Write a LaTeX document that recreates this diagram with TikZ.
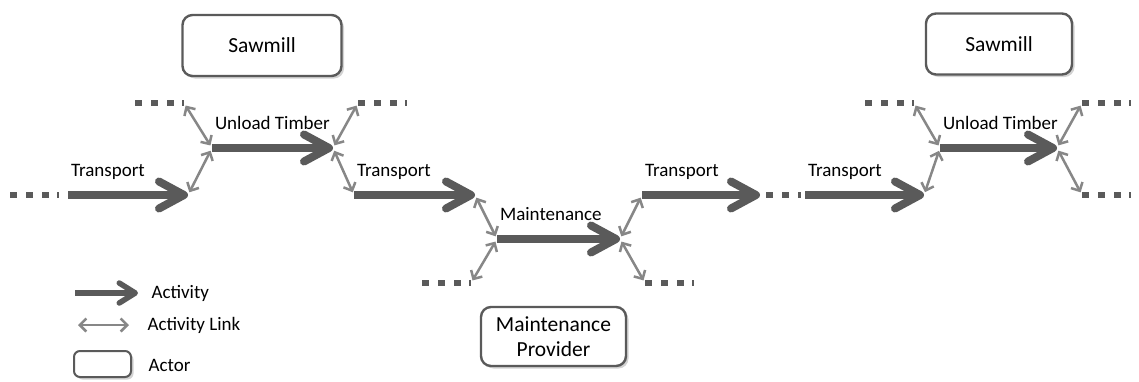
\documentclass[tikz,border=0pt]{standalone}
\usepackage{fontspec}
\setmainfont{Carlito}
\usepackage{xcolor}
\usepackage{tikz}
\usetikzlibrary{arrows.meta,positioning,shadows}
\definecolor{actgray}{RGB}{90,90,90}
\definecolor{linkgray}{RGB}{135,135,135}

\begin{document}
\begin{tikzpicture}[
  x=1pt, y=-1pt,
  every node/.style={font=\fontsize{19}{22}\selectfont},
  activity/.style={draw=actgray, line width=8pt, -{Straight Barb[length=25pt, width=27pt, round]}},
  actlink/.style={draw=linkgray, line width=2.5pt, {Straight Barb[length=6.5pt, width=13pt]}-{Straight Barb[length=6.5pt, width=13pt]}, shorten <=3pt, shorten >=3pt},
  etc/.style={draw=actgray, line width=6.5pt, dash pattern=on 6.5pt off 9.5pt on 6.5pt off 9.5pt on 6.5pt off 8.5pt on 1.5pt off 100pt},
  actor/.style={draw=actgray, line width=2.4pt, rounded corners=10pt, fill=white, align=center, font=\fontsize{21.5}{25}\selectfont, drop shadow={shadow xshift=2.5pt, shadow yshift=-2.5pt, opacity=0.35}},
  actlabel/.style={anchor=base west, yshift=19pt, xshift=-1pt, inner sep=0pt}
]
  \useasboundingbox (0,0) rectangle (1139,381);

  % Actors
  \node[actor, minimum width=159pt, minimum height=61pt] (saw1) at (262,45.5) {Sawmill};
  \node[actor, minimum width=146pt, minimum height=61pt] (saw2) at (999,44) {Sawmill};
  \node[actor, minimum width=145pt, minimum height=59pt] (mprov) at (553.5,336.5) {Maintenance\\Provider};

  % Activity end points
  \coordinate (a1s) at (68,195);  \coordinate (a1e) at (188,195);
  \coordinate (a2s) at (212,148); \coordinate (a2e) at (333,148);
  \coordinate (a3s) at (354,195); \coordinate (a3e) at (475,195);
  \coordinate (a4s) at (497,239); \coordinate (a4e) at (620,239);
  \coordinate (a5s) at (642,195); \coordinate (a5e) at (760,195);
  \coordinate (a6s) at (805,195); \coordinate (a6e) at (924,195);
  \coordinate (a7s) at (940,148); \coordinate (a7e) at (1057,148);

  % Continuation stubs
  \coordinate (d1a) at (10,195);   \coordinate (d1b) at (59,195);
  \coordinate (d2a) at (135,103);  \coordinate (d2b) at (184,103);
  \coordinate (d3a) at (358,103);  \coordinate (d3b) at (407,103);
  \coordinate (d4a) at (422,283);  \coordinate (d4b) at (471,283);
  \coordinate (d5a) at (645,283);  \coordinate (d5b) at (694,283);
  \coordinate (d6a) at (766,195);  \coordinate (d6b) at (801,195);
  \coordinate (d7a) at (865,103);  \coordinate (d7b) at (914,103);
  \coordinate (d8a) at (1082,103); \coordinate (d8b) at (1139,103);
  \coordinate (d9a) at (1082,195); \coordinate (d9b) at (1139,195);

  \foreach \d in {1,...,9}
    \draw[etc] (d\d a) -- (d\d b);

  % Activities
  \draw[activity] (a1s) -- node[actlabel, pos=0] {Transport} (a1e);
  \draw[activity] (a2s) -- node[actlabel, pos=0] {Unload Timber} (a2e);
  \draw[activity] (a3s) -- node[actlabel, pos=0] {Transport} (a3e);
  \draw[activity] (a4s) -- node[actlabel, pos=0] {Maintenance} (a4e);
  \draw[activity] (a5s) -- node[actlabel, pos=0] {Transport} (a5e);
  \draw[activity] (a6s) -- node[actlabel, pos=0] {Transport} (a6e);
  \draw[activity] (a7s) -- node[actlabel, pos=0] {Unload Timber} (a7e);

  % Activity links
  \draw[actlink] (d2b) -- (a2s);
  \draw[actlink] (a1e) -- (a2s);
  \draw[actlink] (a2e) -- (d3a);
  \draw[actlink] (a2e) -- (a3s);
  \draw[actlink] (a3e) -- (a4s);
  \draw[actlink] (a4s) -- (d4b);
  \draw[actlink] (a4e) -- (a5s);
  \draw[actlink] (a4e) -- (d5a);
  \draw[actlink] (d7b) -- (a7s);
  \draw[actlink] (a6e) -- (a7s);
  \draw[actlink] (a7e) -- (d8a);
  \draw[actlink] (a7e) -- (d9a);

  % Legend
  \coordinate (lg1a) at (75,293);  \coordinate (lg1b) at (138,293);
  \coordinate (lg2a) at (75,325);  \coordinate (lg2b) at (132,325);
  \draw[activity, line width=5.5pt, -{Straight Barb[length=16pt, width=20pt, round]}] (lg1a) -- (lg1b);
  \draw[actlink] (lg2a) -- (lg2b);
  \node[actor, line width=2pt, rounded corners=6pt, minimum width=57pt, minimum height=26pt] (lgbox) at (102.5,364) {};
  \node[anchor=west] (lgact) at (148,293) {Activity};
  \node[anchor=west] (lglink) at (144,325) {Activity Link};
  \node[anchor=west] (lgactor) at (145,365) {Actor};

\end{tikzpicture}
\end{document}
